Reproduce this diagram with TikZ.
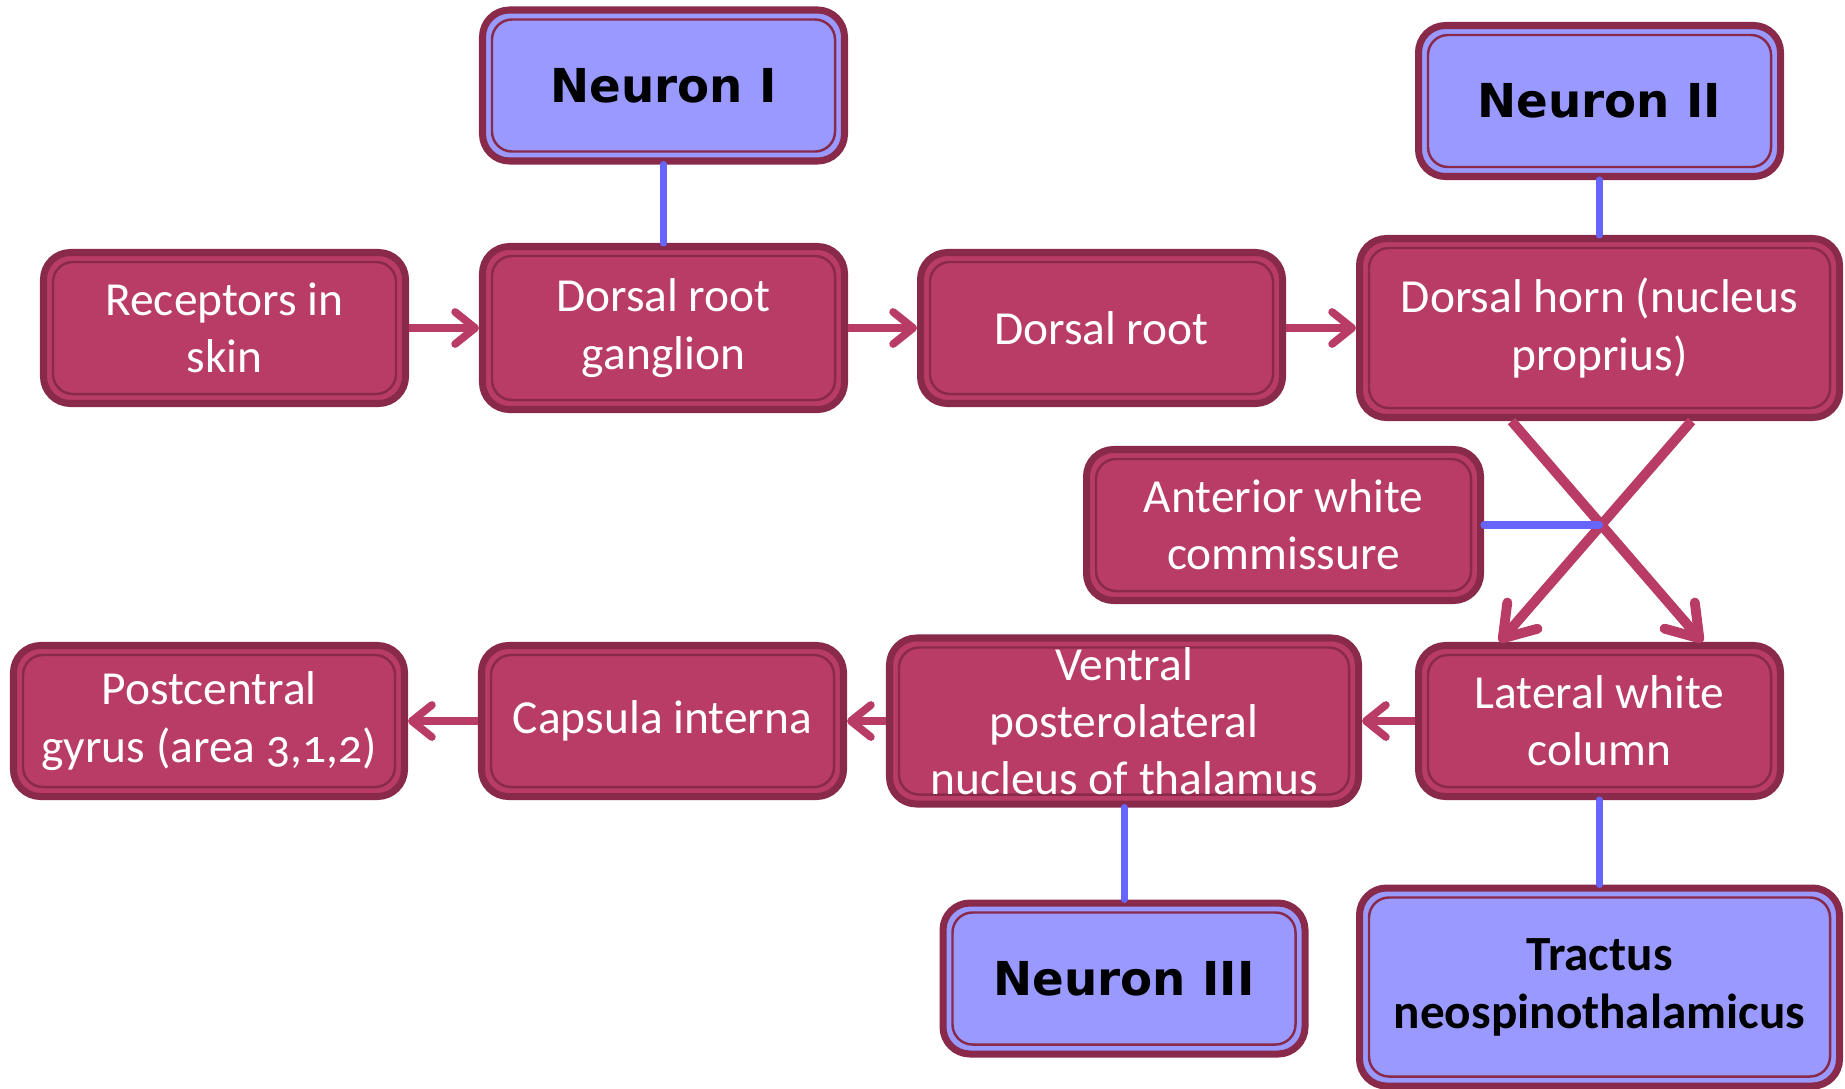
\documentclass[tikz,border=0pt]{standalone}
\usepackage{fontspec}
\setmainfont{Carlito}
\newfontfamily\heavyfont{DejaVu Sans}
\usetikzlibrary{positioning}
\usetikzlibrary{arrows.meta}
\definecolor{cellfill}{HTML}{B83C66}
\definecolor{celledge}{HTML}{8A2A4A}
\definecolor{neuronfill}{HTML}{9999FF}
\definecolor{linkblue}{HTML}{6666FF}

\begin{document}
\begin{tikzpicture}[
    cell/.style = {rectangle, rounded corners = 0.27cm, draw = celledge, line width = 2pt,
        fill = cellfill, text = white, align = center, inner sep = 2pt,
        minimum width = 3.62cm, minimum height = 1.51cm,
        font = \fontsize{13.5}{16.3}\selectfont,
        path picture = {\draw[celledge, line width = 0.7pt, rounded corners = 0.2cm]
            ([shift = {(2.7pt,-2.7pt)}]path picture bounding box.north west) rectangle
            ([shift = {(-2.7pt,2.7pt)}]path picture bounding box.south east);}},
    neuron/.style = {cell, fill = neuronfill, text = black,
        font = \heavyfont\bfseries\fontsize{13.3}{16}\selectfont},
    flow/.style = {cellfill, line width = 2.2pt,
        -{Straight Barb[round, length = 0.2cm, width = 0.32cm]}},
    decussate/.style = {flow, line width = 2.8pt,
        -{Straight Barb[round, length = 0.3cm, width = 0.4cm]}},
    link/.style = {linkblue, line width = 2pt, line cap = round}
]
    \useasboundingbox (0,0) rectangle (18.45,-10.88);

    %\draw[help lines, opacity = 0.1] (0,0) grid (18.45,-10.88);

    \begin{scope}[on grid]

        \node (receptors) at (2.245,-3.28) [cell] {Receptors in\\skin};
        \node (drg) [cell, minimum height = 1.63cm, right = 4.39 of receptors] {Dorsal root\\ganglion};
        \node (root) [cell, right = 4.38 of drg] {Dorsal root};
        \node (horn) [cell, minimum width = 4.8cm, minimum height = 1.79cm, right = 4.98 of root] {Dorsal horn (nucleus\\proprius)};

        \node (neuronI) [neuron, above = 2.425 of drg] {Neuron I};
        \node (neuronII) [neuron, above = 2.27 of horn] {Neuron II};

        \node (awc) [cell, minimum width = 3.94cm, below left = 1.97 and 3.16 of horn] {Anterior white\\commissure};

        \node (lateral) [cell, below = 3.93 of horn] {Lateral white\\column};
        \node (vpl) [cell, minimum width = 4.69cm, minimum height = 1.66cm, left = 4.755 of lateral] {Ventral\\posterolateral\\nucleus of thalamus};
        \node (capsula) [cell, left = 4.615 of vpl] {Capsula interna};
        \node (gyrus) [cell, minimum width = 3.91cm, left = 4.535 of capsula] {Postcentral\\gyrus (area {\addfontfeature{Numbers = OldStyle}3,1,2})};

        \node (neuronIII) [neuron, below = 2.575 of vpl] {Neuron III};
        \node (tractus) [neuron, minimum width = 4.8cm, minimum height = 1.98cm, below = 2.66 of lateral,
            font = \bfseries\fontsize{14}{16.5}\selectfont] {Tractus\\neospinothalamicus};

    \end{scope}

    \draw[link] (neuronI) -- (drg);
    \draw[link] (neuronII) -- (horn);
    \draw[link] (vpl) -- (neuronIII);
    \draw[link] (lateral) -- (tractus);

    \draw[flow] (receptors) -- (drg);
    \draw[flow] (drg) -- (root);
    \draw[flow] (root) -- (horn);
    \draw[flow] (lateral) -- (vpl);
    \draw[flow] (vpl) -- (capsula);
    \draw[flow] (capsula) -- (gyrus);

    \draw[decussate] ([xshift = -0.88cm]horn.south) -- ([xshift = 1.03cm]lateral.north);
    \draw[decussate] ([xshift = 0.92cm]horn.south) -- ([xshift = -1cm]lateral.north);
    \draw[link] (awc.east) -- (awc.east -| horn.south);

\end{tikzpicture}
\end{document}
